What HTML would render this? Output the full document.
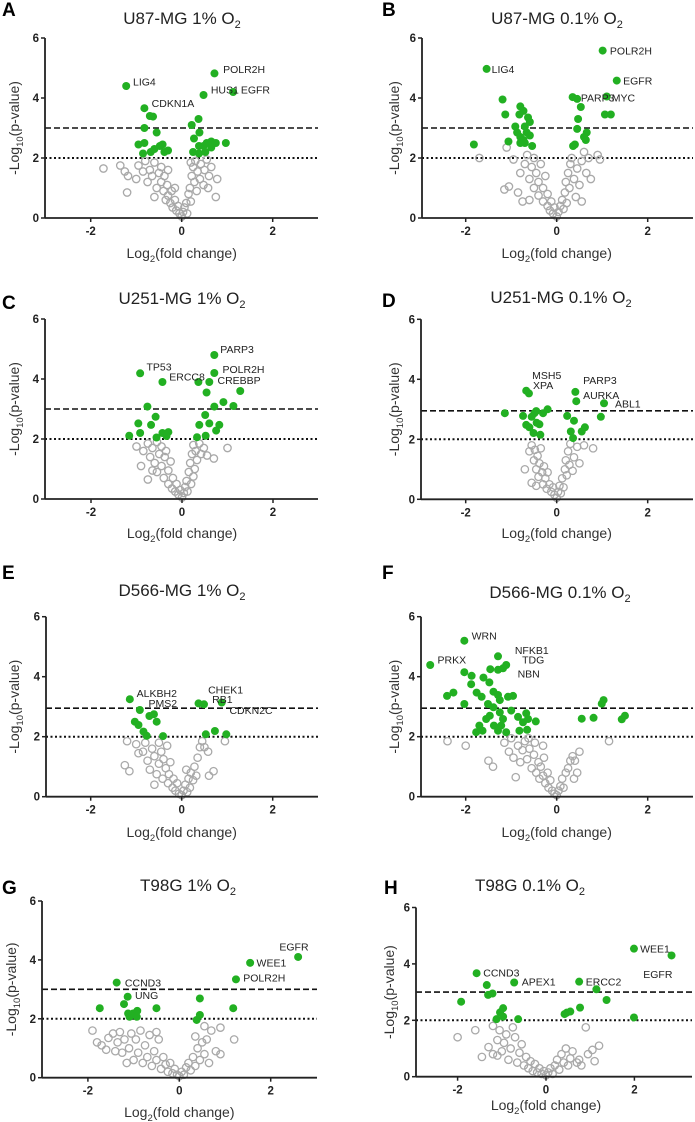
<!DOCTYPE html>
<html><head><meta charset="utf-8"><style>
html,body{margin:0;padding:0;background:#fff}
svg{display:block;font-family:"Liberation Sans",Arial,sans-serif}
</style></head><body>
<svg id="fig" width="695" height="1122" viewBox="0 0 695 1122" xmlns="http://www.w3.org/2000/svg"></svg>
<script>
// ---- data (log2 fold change, -log10 p) ----
const A_green=[[-1.22,4.4],[-0.82,3.66],[-0.7,3.4],[-0.63,3.38],[-0.82,3.0],[-0.55,2.85],[-0.95,2.45],[-0.82,2.5],[-0.85,2.15],[-0.68,2.2],[-0.6,2.3],[-0.48,2.4],[-0.42,2.45],[-0.38,2.2],[-0.3,2.25],[0.22,3.1],[0.37,3.3],[0.39,2.85],[0.27,2.65],[0.48,4.1],[0.72,4.82],[1.13,4.2],[0.25,2.2],[0.38,2.4],[0.48,2.4],[0.55,2.5],[0.65,2.55],[0.75,2.5],[0.97,2.5],[0.38,2.15],[0.52,2.2],[0.65,2.35]];
const A_grey=[[-1.72,1.65],[-1.35,1.75],[-1.25,1.55],[-1.18,1.4],[-1.2,0.85],[-1.0,1.3],[-0.95,1.75],[-0.85,1.55],[-0.8,1.9],[-0.75,1.2],[-0.7,1.6],[-0.65,1.4],[-0.6,1.85],[-0.55,1.0],[-0.5,1.5],[-0.45,1.7],[-0.45,1.2],[-0.4,0.9],[-0.38,1.4],[-0.35,0.6],[-0.32,1.1],[-0.3,0.75],[-0.25,0.5],[-0.22,0.9],[-0.2,0.35],[-0.15,0.6],[-0.12,0.25],[-0.08,0.4],[-0.05,0.15],[0,0.05],[0.03,0.2],[0.06,0.35],[0.1,0.5],[0.12,0.15],[0.15,0.8],[0.18,1.0],[0.2,0.55],[0.22,1.4],[0.25,1.7],[0.28,1.2],[0.3,1.9],[0.33,0.9],[0.35,1.55],[0.4,1.3],[0.42,1.8],[0.48,1.1],[0.5,1.6],[0.55,1.95],[0.6,1.4],[0.65,1.7],[0.78,1.3],[0.75,0.7],[0.58,1.0],[0.2,1.85],[-0.6,0.7],[-0.3,1.6],[-0.15,1.0]];
const A_labels=[["LIG4",-1.07,4.55],["CDKN1A",-0.66,3.83],["POLR2H",0.91,4.97],["HUS1",0.64,4.29],["EGFR",1.3,4.29]];

const B_green=[[-1.54,4.97],[1.01,5.58],[1.32,4.58],[0.35,4.03],[0.45,3.97],[1.1,4.05],[0.53,3.7],[1.06,3.45],[1.19,3.45],[0.47,3.3],[0.45,2.97],[0.66,2.85],[0.6,2.7],[0.64,2.6],[0.4,2.45],[0.36,2.4],[-1.82,2.45],[-1.19,3.95],[-1.13,3.45],[-1.06,2.55],[-0.91,3.05],[-0.8,3.72],[-0.82,3.45],[-0.73,3.57],[-0.87,2.85],[-0.8,2.7],[-0.7,3.05],[-0.66,2.85],[-0.63,3.35],[-0.59,3.2],[-0.8,2.5],[-0.7,2.5],[-0.59,2.75],[-0.54,2.4],[-0.73,2.6]];
const B_grey=[[-1.7,2.0],[-1.1,2.35],[-1.15,0.95],[-1.05,1.05],[-0.95,1.95],[-0.8,1.5],[-0.85,0.85],[-0.7,1.8],[-0.65,2.1],[-0.6,1.3],[-0.55,1.7],[-0.5,1.0],[-0.5,2.0],[-0.45,1.5],[-0.4,0.75],[-0.4,1.2],[-0.35,1.8],[-0.3,0.55],[-0.3,1.0],[-0.25,1.4],[-0.2,0.4],[-0.2,0.8],[-0.15,0.25],[-0.12,0.55],[-0.08,0.15],[-0.05,0.35],[0,0.05],[0.04,0.2],[0.08,0.4],[0.12,0.6],[0.15,0.3],[0.18,0.85],[0.2,1.2],[0.22,0.5],[0.25,1.5],[0.28,1.0],[0.3,1.8],[0.33,2.0],[0.38,1.3],[0.42,0.7],[0.45,1.65],[0.5,1.1],[0.55,1.9],[0.6,2.2],[0.65,1.5],[0.7,2.0],[0.75,1.3],[0.9,2.1],[0.95,1.95],[0.55,0.55],[-0.75,0.55],[-0.6,0.6]];
const B_labels=[["LIG4",-1.43,4.97],["POLR2H",1.17,5.58],["EGFR",1.46,4.58],["PARP3",0.53,4.02],["MYC",1.21,4.02]];

const C_green=[[-0.92,4.19],[-0.43,3.9],[-0.76,3.08],[-0.58,2.74],[-0.96,2.52],[-0.68,2.47],[-1.16,2.11],[-0.92,2.2],[-0.43,2.2],[-0.3,2.23],[-0.34,2.1],[-0.56,2.05],[0.71,4.8],[0.71,4.2],[0.36,3.9],[0.6,3.9],[0.54,3.55],[1.28,3.6],[0.91,3.23],[1.13,3.1],[0.71,3.08],[0.51,2.8],[0.38,2.47],[0.6,2.52],[0.82,2.47],[0.75,2.28],[0.52,2.11],[0.33,2.06]];
const C_grey=[[-1.0,1.75],[-0.9,1.1],[-0.85,1.6],[-0.75,0.65],[-0.75,1.85],[-0.7,1.4],[-0.65,1.7],[-0.6,1.2],[-0.55,1.9],[-0.55,0.9],[-0.5,1.5],[-0.45,1.75],[-0.45,1.1],[-0.4,0.7],[-0.38,1.4],[-0.35,1.6],[-0.3,0.5],[-0.3,0.95],[-0.25,1.25],[-0.22,0.35],[-0.2,0.7],[-0.15,0.25],[-0.12,0.5],[-0.08,0.15],[-0.04,0.3],[0,0.05],[0.04,0.2],[0.07,0.4],[0.1,0.6],[0.12,0.25],[0.15,0.9],[0.18,1.2],[0.2,0.5],[0.22,1.5],[0.25,1.8],[0.28,1.0],[0.3,1.6],[0.33,1.3],[0.38,1.85],[0.42,1.5],[0.48,1.7],[0.55,1.45],[0.7,1.35],[1.0,1.7],[0.25,0.75],[-0.65,0.95]];
const C_labels=[["TP53",-0.78,4.41],["ERCC8",-0.28,4.08],["PARP3",0.84,5.0],["POLR2H",0.89,4.33],["CREBBP",0.78,3.97]];

const D_green=[[-1.14,2.87],[-0.74,2.78],[-0.67,3.62],[-0.61,3.53],[-0.67,2.48],[-0.6,2.4],[-0.49,2.87],[-0.45,2.94],[-0.38,2.5],[-0.44,2.55],[-0.51,2.21],[-0.36,2.15],[-0.3,2.87],[-0.2,3.0],[-0.55,2.75],[0.41,3.58],[0.43,3.27],[0.23,2.78],[0.38,2.62],[0.31,2.26],[0.36,2.04],[0.55,2.26],[0.62,2.4],[1.04,3.2],[0.97,2.75]];
const D_grey=[[-0.7,1.0],[-0.55,0.55],[-0.6,1.6],[-0.55,1.8],[-0.5,1.3],[-0.48,1.65],[-0.45,1.0],[-0.42,1.45],[-0.4,0.75],[-0.38,1.2],[-0.35,1.7],[-0.32,0.9],[-0.3,0.5],[-0.28,1.1],[-0.25,0.7],[-0.22,0.35],[-0.2,0.9],[-0.16,0.5],[-0.12,0.25],[-0.08,0.4],[-0.05,0.15],[0,0.05],[0.03,0.25],[0.06,0.45],[0.09,0.2],[0.12,0.7],[0.15,0.4],[0.18,1.0],[0.2,1.3],[0.22,0.8],[0.25,1.6],[0.28,1.15],[0.3,1.85],[0.35,0.95],[0.38,1.4],[0.5,1.2],[0.6,1.8],[0.8,1.7],[0.45,1.75],[-0.45,0.45]];
const D_labels=[["MSH5",-0.54,4.14],["XPA",-0.52,3.81],["PARP3",0.58,3.98],["AURKA",0.58,3.48],["ABL1",1.28,3.2]];

const E_green=[[-1.14,3.25],[-0.92,2.89],[-1.03,2.5],[-0.95,2.39],[-0.84,2.17],[-0.71,2.69],[-0.61,2.75],[-0.55,2.5],[-0.77,2.03],[-0.41,2.02],[0.37,3.11],[0.49,3.08],[0.88,3.14],[0.53,2.08],[0.73,2.19],[0.98,2.08]];
const E_grey=[[-1.25,1.05],[-1.15,0.85],[-1.2,1.85],[-1.0,1.75],[-0.95,1.45],[-0.85,1.5],[-0.8,1.8],[-0.75,1.2],[-0.7,0.9],[-0.65,1.6],[-0.6,1.35],[-0.55,0.75],[-0.5,1.8],[-0.5,1.1],[-0.45,1.5],[-0.42,0.6],[-0.4,1.25],[-0.35,0.95],[-0.32,1.7],[-0.3,0.45],[-0.28,0.75],[-0.25,1.15],[-0.2,0.3],[-0.18,0.6],[-0.14,0.2],[-0.1,0.45],[-0.06,0.1],[0,0.05],[0.04,0.2],[0.08,0.4],[0.12,0.15],[0.15,0.6],[0.18,0.3],[0.2,0.8],[0.25,0.55],[0.28,1.0],[0.32,0.7],[0.35,1.3],[0.4,1.65],[0.45,1.85],[0.5,1.65],[0.58,1.5],[0.6,0.7],[0.7,0.85],[0.95,1.85],[-0.6,0.4],[0.1,0.9]];
const E_labels=[["ALKBH2",-0.99,3.45],["PMS2",-0.73,3.13],["CHEK1",0.58,3.58],["RB1",0.67,3.25],["CDKN2C",1.05,2.89]];

const F_green=[[-2.78,4.39],[-2.03,5.2],[-2.03,4.15],[-2.03,3.09],[-2.41,3.36],[-2.27,3.47],[-1.87,4.03],[-1.88,3.75],[-1.61,3.97],[-1.48,3.81],[-1.76,3.47],[-1.65,3.33],[-1.46,4.25],[-1.29,4.68],[-1.29,4.23],[-1.18,4.28],[-1.11,4.39],[-1.39,3.5],[-1.29,3.39],[-1.25,3.22],[-1.07,3.33],[-0.96,3.36],[-1.51,3.09],[-1.39,2.98],[-1.25,2.81],[-1.0,2.87],[-1.47,2.7],[-1.55,2.59],[-1.18,2.59],[-1.7,2.37],[-1.77,2.15],[-1.63,2.2],[-1.38,2.37],[-1.29,2.2],[-1.11,2.15],[-1.22,2.37],[-0.82,2.2],[-0.74,2.48],[-0.67,2.78],[-0.63,2.59],[-0.46,2.51],[-0.65,2.23],[-0.85,2.66],[0.55,2.6],[0.81,2.63],[0.99,3.1],[1.03,3.22],[1.43,2.58],[1.5,2.7]];
const F_grey=[[-2.4,1.85],[-2.0,1.7],[-1.5,1.2],[-1.4,1.0],[-0.9,0.65],[-1.15,1.8],[-1.05,1.5],[-1.0,1.95],[-0.95,1.3],[-0.85,1.7],[-0.8,1.15],[-0.75,1.55],[-0.7,1.85],[-0.65,1.25],[-0.6,1.6],[-0.55,0.95],[-0.5,1.4],[-0.48,1.8],[-0.45,0.8],[-0.4,1.15],[-0.38,0.6],[-0.35,1.0],[-0.3,0.7],[-0.28,1.3],[-0.25,0.45],[-0.2,0.8],[-0.18,0.3],[-0.14,0.55],[-0.1,0.2],[-0.05,0.1],[0,0.05],[0.04,0.2],[0.08,0.35],[0.12,0.6],[0.15,0.3],[0.2,0.8],[0.25,0.95],[0.3,1.2],[0.35,1.35],[0.4,1.2],[0.45,0.8],[0.5,1.5],[0.38,0.6],[1.15,1.85],[-0.62,1.95],[-0.3,1.7]];
const F_labels=[["WRN",-1.87,5.37],["PRKX",-2.62,4.58],["NFKB1",-0.92,4.89],["TDG",-0.76,4.58],["NBN",-0.86,4.11]];

const G_green=[[-1.74,2.36],[-1.37,3.23],[-1.13,2.75],[-1.21,2.5],[-1.12,2.18],[-1.09,2.07],[-1.01,2.18],[-0.92,2.27],[-0.93,2.07],[-0.5,2.36],[0.45,2.69],[0.45,2.13],[0.38,1.96],[1.18,2.36],[1.24,3.34],[1.55,3.9],[2.6,4.1]];
const G_grey=[[-1.9,1.6],[-1.8,1.2],[-1.7,1.1],[-1.6,0.95],[-1.55,1.35],[-1.45,1.5],[-1.4,0.9],[-1.35,1.2],[-1.3,1.55],[-1.25,0.85],[-1.2,1.3],[-1.1,1.0],[-1.05,1.5],[-1.0,0.6],[-0.95,1.3],[-0.9,0.85],[-0.85,1.6],[-0.8,0.5],[-0.75,1.1],[-0.7,0.7],[-0.65,1.45],[-0.6,0.4],[-0.55,0.9],[-0.5,0.6],[-0.45,1.3],[-0.4,0.3],[-0.35,0.7],[-0.3,0.45],[-0.25,0.2],[-0.2,0.5],[-0.15,0.15],[-0.1,0.3],[-0.05,0.1],[0,0.05],[0.05,0.2],[0.1,0.1],[0.15,0.35],[0.2,0.5],[0.25,0.25],[0.3,0.7],[0.35,0.4],[0.4,1.0],[0.45,0.6],[0.5,1.2],[0.55,0.8],[0.6,1.3],[0.65,0.5],[0.7,1.6],[0.8,0.9],[0.9,0.8],[0.9,1.7],[1.2,1.3],[0.35,1.4],[0.55,1.75],[-0.5,1.55],[-1.15,0.5]];
const G_labels=[["CCND3",-1.19,3.24],["UNG",-0.97,2.81],["POLR2H",1.4,3.4],["WEE1",1.69,3.92],["EGFR",2.19,4.45]];

const H_green=[[-1.92,2.66],[-1.57,3.67],[-1.34,3.25],[-1.31,2.9],[-1.21,2.95],[-0.97,2.43],[-1.04,2.28],[-1.12,2.04],[-0.97,2.13],[-0.72,3.34],[-0.63,2.04],[0.42,2.22],[0.47,2.27],[0.55,2.31],[0.77,2.45],[0.75,3.37],[1.37,2.72],[1.14,3.1],[1.99,4.54],[2.84,4.3],[1.99,2.1]];
const H_grey=[[-2.0,1.4],[-1.6,1.65],[-1.45,0.7],[-1.3,1.05],[-1.2,0.8],[-1.2,1.8],[-1.1,1.3],[-1.05,1.65],[-1.0,0.9],[-0.95,1.2],[-0.9,1.5],[-0.85,0.6],[-0.8,1.0],[-0.75,1.75],[-0.7,1.4],[-0.65,0.5],[-0.6,0.85],[-0.55,1.15],[-0.5,0.4],[-0.45,0.7],[-0.4,0.3],[-0.35,0.55],[-0.3,0.2],[-0.25,0.45],[-0.2,0.15],[-0.15,0.3],[-0.1,0.1],[-0.05,0.2],[0,0.05],[0.05,0.15],[0.1,0.3],[0.15,0.1],[0.2,0.4],[0.25,0.6],[0.3,0.25],[0.35,0.8],[0.4,0.5],[0.45,1.0],[0.5,0.4],[0.55,0.65],[0.6,0.9],[0.7,0.5],[0.8,0.4],[0.9,1.75],[0.95,0.8],[1.1,0.55],[1.2,1.1],[1.05,0.95],[-1.1,0.75],[0.75,0.6]];
const H_labels=[["CCND3",-1.42,3.69],["APEX1",-0.55,3.37],["ERCC2",0.9,3.37],["WEE1",2.13,4.54],["EGFR",2.2,3.64]];

const yTicks=[0,2,4,6];
const xTicks=[-2,0,2];

const panels=[
 {id:"a",letter:"A",title:"U87-MG 1% O",L:45,R:318,x0:181.7,ux:45.5,y0:218,uy:30,tx:182,ty:18,lx:2,ly:16,xl:253,yl:14,dash:3,green:A_green,grey:A_grey,labels:A_labels},
 {id:"b",letter:"B",title:"U87-MG 0.1% O",L:422,R:693,x0:556.7,ux:45.5,y0:218,uy:30,tx:557,ty:18,lx:382,ly:16,xl:253,yl:394,dash:3,green:B_green,grey:B_grey,labels:B_labels},
 {id:"c",letter:"C",title:"U251-MG 1% O",L:45,R:318,x0:182,ux:45.5,y0:499,uy:30,tx:182,ty:298,lx:2,ly:309,xl:533,yl:14,dash:3,green:C_green,grey:C_grey,labels:C_labels},
 {id:"d",letter:"D",title:"U251-MG 0.1% O",L:421,R:693,x0:556.7,ux:45.5,y0:499.3,uy:30,tx:561,ty:297,lx:382,ly:307,xl:533,yl:394,dash:2.95,green:D_green,grey:D_grey,labels:D_labels},
 {id:"e",letter:"E",title:"D566-MG 1% O",L:46,R:318,x0:181.7,ux:45.5,y0:796.7,uy:30,tx:182,ty:590,lx:2,ly:579,xl:832,yl:14,dash:2.95,green:E_green,grey:E_grey,labels:E_labels},
 {id:"f",letter:"F",title:"D566-MG 0.1% O",L:421,R:693,x0:556.7,ux:45.5,y0:796.7,uy:30,tx:560,ty:592,lx:382,ly:579,xl:832,yl:394,dash:2.95,green:F_green,grey:F_grey,labels:F_labels},
 {id:"g",letter:"G",title:"T98G 1% O",L:42,R:317,x0:179.3,ux:45.7,y0:1077.7,uy:29.45,tx:188,ty:885,lx:2,ly:894,xl:1112,yl:11,dash:3,green:G_green,grey:G_grey,labels:G_labels},
 {id:"h",letter:"H",title:"T98G 0.1% O",L:416,R:692,x0:546,ux:44.2,y0:1076.7,uy:28.2,tx:530,ty:885,lx:384,ly:894,xl:1105,yl:389,dash:3,green:H_green,grey:H_grey,labels:H_labels}
];

const NS="http://www.w3.org/2000/svg";
const svg=document.getElementById('fig');
function mk(tag,attrs,parent){const e=document.createElementNS(NS,tag);for(const k in attrs)e.setAttribute(k,attrs[k]);(parent||svg).appendChild(e);return e;}

panels.forEach(p=>{
 const X=v=>p.x0+v*p.ux, Y=v=>p.y0-v*p.uy;
 const g=mk('g',{});
 
 
 const lt=mk('text',{x:p.lx,y:p.ly,'font-size':19,'font-weight':'bold',fill:'#000'},g);lt.textContent=p.letter;
 
 
 const tt=mk('text',{x:p.tx,y:p.ty+6,'font-size':17,'text-anchor':'middle',fill:'#222'},g);
 
 
 tt.appendChild(document.createTextNode(p.title));
 const sub=mk('tspan',{'font-size':11,dy:4},tt);sub.textContent='2';
 // threshold lines
 const dl=mk('line',{x1:p.L,x2:p.R,y1:Y(p.dash),y2:Y(p.dash),stroke:'#111','stroke-width':1.6,'stroke-dasharray':'6,3'},g);
 
 
 const dt=mk('line',{x1:p.L,x2:p.R,y1:Y(2),y2:Y(2),stroke:'#111','stroke-width':2,'stroke-dasharray':'2,2.5'},g);
 
 
 // grey points
 p.grey.forEach(d=>{
  const c=mk('circle',{cx:X(d[0]),cy:Y(d[1]),r:3.7,fill:'none',stroke:'#a9a9a9','stroke-width':1.3},g);
  
  
 });
 p.green.forEach(d=>{
  const c=mk('circle',{cx:X(d[0]),cy:Y(d[1]),r:4,fill:'#22b022'},g);
  
  
 });
 p.labels.forEach(d=>{
  const t=mk('text',{x:X(d[1]),y:Y(d[2])+4,'font-size':10.5,fill:'#222'},g);t.textContent=d[0];
  
  
 });
 // axes
 const ya=mk('line',{x1:p.L,x2:p.L,y1:Y(6),y2:p.y0,stroke:'#222','stroke-width':1.8},g);
 
 
 const xa=mk('line',{x1:p.L,x2:p.R,y1:p.y0,y2:p.y0,stroke:'#222','stroke-width':1.8},g);
 
 
 yTicks.forEach(v=>{
  mk('line',{x1:p.L-4,x2:p.L,y1:Y(v),y2:Y(v),stroke:'#222','stroke-width':1.5},g);
  const t=mk('text',{x:p.L-6,y:Y(v)+4,'font-size':11.5,'font-weight':'bold','text-anchor':'end',fill:'#222'},g);t.textContent=v;
  
  
 });
 xTicks.forEach(v=>{
  mk('line',{x1:X(v),x2:X(v),y1:p.y0,y2:p.y0+4,stroke:'#222','stroke-width':1.5},g);
  const t=mk('text',{x:X(v),y:p.y0+17,'font-size':11.5,'font-weight':'bold','text-anchor':'middle',fill:'#222'},g);t.textContent=(v<0?'-':'')+Math.abs(v);
  
  
 });
 const xt=mk('text',{x:(p.L+p.R)/2-(p.R>600?0:0)+ (p.x0-(p.L+p.R)/2),y:p.xl+5,'font-size':14,'text-anchor':'middle',fill:'#333'},g);
 
 
 xt.appendChild(document.createTextNode('Log'));
 const s1=mk('tspan',{'font-size':9.5,dy:4},xt);s1.textContent='2';
 const s2=mk('tspan',{dy:-4},xt);s2.textContent='(fold change)';
 const cy=(Y(6)+p.y0)/2;
 const yt=mk('text',{x:0,y:0,'font-size':14,'text-anchor':'middle',fill:'#333',transform:`translate(${p.yl+5},${cy}) rotate(-90)`},g);
 
 
 yt.appendChild(document.createTextNode('-Log'));
 const s3=mk('tspan',{'font-size':9.5,dy:4},yt);s3.textContent='10';
 const s4=mk('tspan',{dy:-4},yt);s4.textContent='(p-value)';
});
</script>
</body></html>
